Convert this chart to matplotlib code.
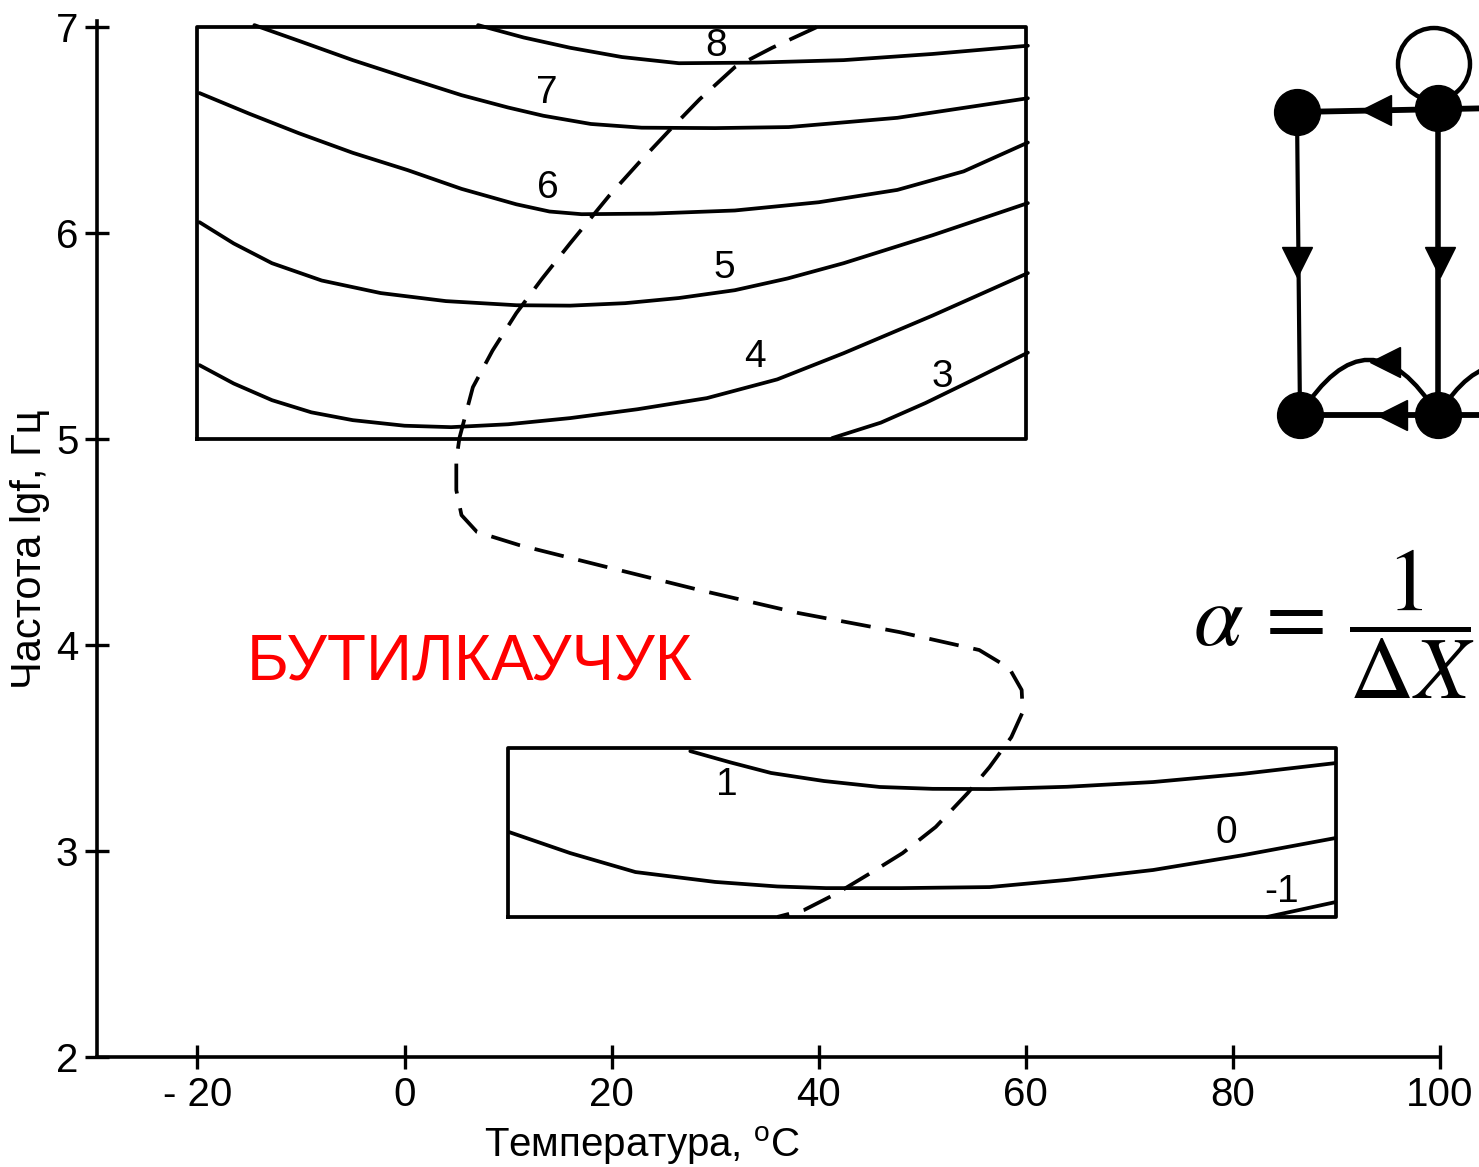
import matplotlib.pyplot as plt
from matplotlib.patches import Circle, FancyArrowPatch

plt.rcParams['font.family'] = ['Liberation Sans', 'DejaVu Sans']
plt.rcParams['mathtext.fontset'] = 'custom'
plt.rcParams['mathtext.rm'] = 'Liberation Sans'

# upper box (x: -20..60, lgf: 5..7)
c8_x = [7.1, 11.5, 16.0, 21.0, 26.5, 34.0, 42.4, 51.0, 60.2]
c8_y = [7.01, 6.95, 6.90, 6.855, 6.825, 6.828, 6.84, 6.87, 6.91]
c7_x = [-14.5, -10.0, -5.0, 0.5, 5.5, 10.0, 13.4, 18.0, 22.9, 30.0, 37.1, 47.6, 60.2]
c7_y = [7.01, 6.93, 6.84, 6.75, 6.67, 6.61, 6.57, 6.53, 6.512, 6.51, 6.515, 6.56, 6.655]
c6_x = [-19.8, -15.0, -10.2, -5.0, 0.3, 5.5, 10.8, 14.0, 17.1, 24.0, 31.9, 40.0, 47.6, 54.0, 60.2]
c6_y = [6.68, 6.58, 6.485, 6.39, 6.306, 6.215, 6.14, 6.105, 6.092, 6.095, 6.11, 6.15, 6.21, 6.30, 6.44]
c5_x = [-19.8, -16.5, -12.8, -8.0, -2.3, 4.0, 10.8, 16.0, 21.3, 26.5, 31.9, 37.0, 42.4, 51.0, 60.2]
c5_y = [6.053, 5.95, 5.854, 5.77, 5.709, 5.67, 5.65, 5.648, 5.66, 5.685, 5.723, 5.78, 5.854, 5.99, 6.146]
c4_x = [-19.8, -16.5, -12.8, -9.0, -5.0, 0.0, 4.5, 10.0, 16.0, 22.5, 29.2, 36.0, 42.4, 51.0, 60.2]
c4_y = [5.359, 5.27, 5.189, 5.13, 5.092, 5.065, 5.058, 5.072, 5.102, 5.145, 5.199, 5.29, 5.417, 5.60, 5.806]
c3_x = [41.3, 46.0, 50.3, 55.0, 60.2]
c3_y = [5.005, 5.08, 5.175, 5.29, 5.42]

# lower box (x: 10..90, lgf: 2.68..3.5)
c1_x = [27.6, 31.5, 35.4, 40.5, 45.9, 51.0, 56.5, 64.0, 72.3, 81.0, 89.9]
c1_y = [3.485, 3.43, 3.379, 3.34, 3.311, 3.302, 3.301, 3.312, 3.335, 3.375, 3.427]
c0_x = [10.1, 16.0, 22.3, 30.0, 36.0, 40.7, 48.0, 56.5, 64.0, 72.3, 81.0, 89.9]
c0_y = [3.092, 2.99, 2.898, 2.85, 2.828, 2.82, 2.82, 2.825, 2.86, 2.908, 2.98, 3.063]
cm1_x = [83.3, 89.9]
cm1_y = [2.68, 2.752]

# dashed transition line
d_x = [39.8, 35.5, 31.9, 28.5, 25.6, 22.6, 19.8, 16.0, 13.3, 10.8, 8.5, 6.6, 5.3, 5.0, 5.0, 5.5, 7.0,
       11.1, 18.8, 28.5, 38.1, 47.8, 55.5, 58.4, 59.6, 59.7, 58.6, 56.5, 54.4, 51.3, 48.1, 45.0, 41.8, 38.6, 36.0]
d_y = [7.0, 6.9, 6.806, 6.65, 6.50, 6.34, 6.184, 5.951, 5.78, 5.612, 5.43, 5.252, 5.005, 4.898, 4.752, 4.631, 4.549,
       4.485, 4.388, 4.267, 4.155, 4.063, 3.976, 3.888, 3.782, 3.675, 3.553, 3.408, 3.282, 3.117, 2.99, 2.893, 2.796, 2.714, 2.68]

curves_top = [(c8_x, c8_y), (c7_x, c7_y), (c6_x, c6_y), (c5_x, c5_y), (c4_x, c4_y), (c3_x, c3_y)]
curves_bot = [(c1_x, c1_y), (c0_x, c0_y), (cm1_x, cm1_y)]
labels = ['8', '7', '6', '5', '4', '3', '1', '0', '-1']
label_x = [30.1, 13.7, 13.8, 30.9, 33.8, 51.9, 31.1, 79.4, 84.7]
label_y = [6.91, 6.68, 6.22, 5.83, 5.40, 5.30, 3.32, 3.087, 2.80]

xticks = [-20, 0, 20, 40, 60, 80, 100]
xtick_labels = ['- 20', '0', '20', '40', '60', '80', '100']
yticks = [2, 3, 4, 5, 6, 7]

fig = plt.figure(figsize=(14.79, 11.67), dpi=100)
ax = fig.add_axes([97 / 1479, 110 / 1167, 1343 / 1479, 1036 / 1167])
ax.set_xlim(-29.7, 100)
ax.set_ylim(2, 7.03)
for s in ['top', 'right']:
    ax.spines[s].set_visible(False)
ax.spines['bottom'].set_bounds(-29.7, 100)
for s in ['left', 'bottom']:
    ax.spines[s].set_linewidth(2.6)
ax.set_xticks(xticks)
ax.set_xticklabels(xtick_labels)
ax.set_yticks(yticks)
ax.tick_params(direction='inout', length=17, width=2.4, labelsize=29, pad=5)
ax.set_xlabel('Температура, $^{\\mathrm{o}}$C', fontsize=29)
ax.set_ylabel('Частота lgf, Гц', fontsize=30)
ax.xaxis.set_label_coords(0.406, -0.065)
ax.yaxis.set_label_coords(-0.035, 0.49)

lw = 2.7
# frames
ax.plot([-20, 60, 60, -20, -20], [5, 5, 7, 7, 5], color='black', lw=lw, clip_on=False)
ax.plot([10, 90, 90, 10, 10], [2.68, 2.68, 3.5, 3.5, 2.68], color='black', lw=lw)
for cx, cy in curves_top + curves_bot:
    ax.plot(cx, cy, color='black', lw=lw, solid_capstyle='round', solid_joinstyle='round', clip_on=False)
ax.plot(d_x, d_y, color='black', lw=lw, dashes=(8, 4), clip_on=False)
for t, lx, ly in zip(labels, label_x, label_y):
    ax.text(lx, ly, t, fontsize=28, ha='center', va='center')

ax.text(6.3, 3.917, 'БУТИЛКАУЧУК', color='red', fontsize=46, ha='center', va='center')

# formula
fig.text(1193 / 1479, (1167 - 624) / 1167, r'$\alpha\,=\,\dfrac{1}{\Delta X}$',
         fontsize=64, math_fontfamily='stix', ha='left', va='center')

# graph schematic (pixel-like coordinates)
node_x = [1297, 1438, 1300, 1438]
node_y = [112, 108, 415, 415]
ax2 = fig.add_axes([1260 / 1479, (1167 - 450) / 1167, 219 / 1479, 450 / 1167])
ax2.set_xlim(1260, 1479)
ax2.set_ylim(450, 0)
ax2.axis('off')
elw = 4.2
ax2.plot([node_x[0], 1500], [node_y[0], node_y[1]], color='black', lw=elw)
ax2.plot([node_x[2], 1500], [node_y[2], node_y[3]], color='black', lw=elw)
ax2.plot([node_x[0], node_x[2]], [node_y[0], node_y[2]], color='black', lw=3.0)
ax2.plot([node_x[1], node_x[3]], [node_y[1], node_y[3]], color='black', lw=4.0)
ax2.add_patch(Circle((1434, 64), 36, fill=False, lw=3.2, color='black'))
ax2.add_patch(FancyArrowPatch((node_x[3], node_y[3]), (node_x[2], node_y[2]),
                              connectionstyle='arc3,rad=0.8', arrowstyle='-', lw=3.2, color='black',
                              shrinkA=0, shrinkB=0))
ax2.add_patch(FancyArrowPatch((node_x[3], node_y[3]), (1560, 415),
                              connectionstyle='arc3,rad=-0.8', arrowstyle='-', lw=3.2, color='black',
                              shrinkA=0, shrinkB=0))
ax2.plot(node_x, node_y, 'o', color='black', markersize=33)
ax2.plot([1376, 1392, 1385], [110, 415, 362], '<', color='black', markersize=21)
ax2.plot([1297, 1440], [262, 262], 'v', color='black', markersize=21)

fig.savefig('out.png', dpi=100)
